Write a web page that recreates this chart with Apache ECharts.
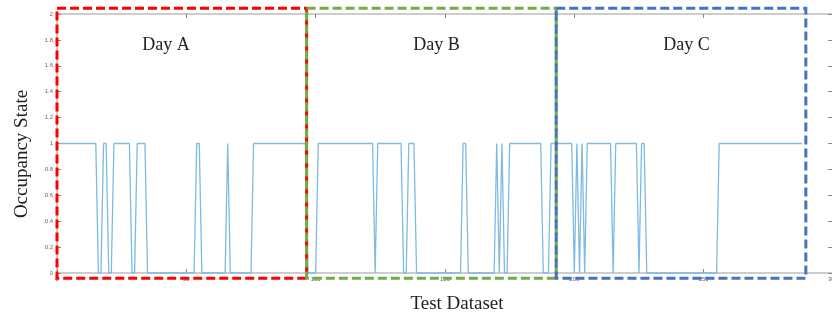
<!DOCTYPE html>
<html>
<head>
<meta charset="utf-8">
<script src="https://cdn.jsdelivr.net/npm/echarts@6/dist/echarts.min.js"></script>
<style>
html,body{margin:0;padding:0;background:#fff;}
#c{width:832px;height:321px;}
</style>
</head>
<body>
<div id="c"></div>
<script>
// Occupancy state per test sample (x = 1..288)
const occupancy = [
  1,1,1,1,1,1,1,1,1,1,
  1,1,1,1,1,0,0,1,1,0,
  0,1,1,1,1,1,1,1,0,0,
  1,1,1,1,0,0,0,0,0,0,
  0,0,0,0,0,0,0,0,0,0,
  0,0,0,1,1,0,0,0,0,0,
  0,0,0,0,0,1,0,0,0,0,
  0,0,0,0,0,1,1,1,1,1,
  1,1,1,1,1,1,1,1,1,1,
  1,1,1,1,1,1,0,0,0,0,
  1,1,1,1,1,1,1,1,1,1,
  1,1,1,1,1,1,1,1,1,1,
  1,1,0,1,1,1,1,1,1,1,
  1,1,1,0,0,1,1,1,0,0,
  0,0,0,0,0,0,0,0,0,0,
  0,0,0,0,0,0,1,1,0,0,
  0,0,0,0,0,0,0,0,0,1,
  0,1,0,0,1,1,1,1,1,1,
  1,1,1,1,1,1,1,0,0,0,
  1,1,1,1,1,1,1,1,1,0,
  1,0,1,0,1,1,1,1,1,1,
  1,1,1,1,0,1,1,1,1,1,
  1,1,1,1,0,1,1,0,0,0,
  0,0,0,0,0,0,0,0,0,0,
  0,0,0,0,0,0,0,0,0,0,
  0,0,0,0,0,1,1,1,1,1,
  1,1,1,1,1,1,1,1,1,1,
  1,1,1,1,1,1,1,1,1,1,
  1,1,1,1,1,1,1,1
];
const xTicks = [0, 50, 100, 150, 200, 250, 300];
const yTicks = [0, 0.2, 0.4, 0.6, 0.8, 1, 1.2, 1.4, 1.6, 1.8, 2];
const dayNames = ['Day A', 'Day B', 'Day C'];
const dayBounds = [0, 96.5, 193, 289.5];
const dayLabelX = [42.1, 146.7, 243.4];
const dayColors = ['#ff0000', '#70ad47', '#4472c4'];
const xTitle = 'Test Dataset';
const yTitle = 'Occupancy State';

const seriesData = occupancy.map((v, i) => [i + 1, v]);

const chart = echarts.init(document.getElementById('c'), null, {renderer: 'canvas'});
const axisGray = '#bdbdbd';
const labelStyle = {color: '#666', fontSize: 6, fontFamily: 'Liberation Sans'};

const option = {
  animation: false,
  backgroundColor: '#fff',
  grid: {left: 57, top: 14, width: 776, height: 259, containLabel: false, outerBoundsMode: 'none'},
  xAxis: [
    {
      type: 'value', min: 0, max: 300, interval: 50, position: 'bottom',
      axisLine: {show: true, onZero: false, lineStyle: {color: axisGray, width: 1.5}},
      axisTick: {show: true, inside: true, length: 4, lineStyle: {color: '#888'}},
      axisLabel: Object.assign({margin: 3, formatter: v => xTicks.includes(v) ? String(v) : ''}, labelStyle),
      splitLine: {show: false}
    },
    {
      type: 'value', min: 0, max: 300, interval: 50, position: 'top',
      axisLine: {show: true, onZero: false, lineStyle: {color: axisGray, width: 1.5}},
      axisTick: {show: true, inside: true, length: 4, lineStyle: {color: '#888'}},
      axisLabel: {show: false}, splitLine: {show: false}
    }
  ],
  yAxis: [
    {
      type: 'value', min: 0, max: 2, interval: 0.2, position: 'left',
      axisLine: {show: true, onZero: false, lineStyle: {color: axisGray, width: 1.5}},
      axisTick: {show: true, inside: true, length: 4, lineStyle: {color: '#888'}},
      axisLabel: Object.assign({margin: 4, formatter: v => {
        const t = yTicks.find(k => Math.abs(k - v) < 1e-6);
        return t === undefined ? '' : String(t);
      }}, labelStyle),
      splitLine: {show: false}
    },
    {
      type: 'value', min: 0, max: 2, interval: 0.2, position: 'right',
      axisLine: {show: true, onZero: false, lineStyle: {color: axisGray, width: 1.5}},
      axisTick: {show: true, inside: true, length: 5, lineStyle: {color: '#888'}},
      axisLabel: {show: false}, splitLine: {show: false}
    }
  ],
  series: [{
    type: 'line',
    data: seriesData,
    showSymbol: false,
    symbol: 'none',
    lineStyle: {color: '#7fbae3', width: 1.3},
    xAxisIndex: 0, yAxisIndex: 0,
    clip: false,
    z: 3
  }]
};
chart.setOption(option);

// Dashed day boxes and day labels, positioned through the axes
const graphics = [];
const yTop = chart.convertToPixel({yAxisIndex: 0}, 2.045);
const yBot = chart.convertToPixel({yAxisIndex: 0}, -0.04);
for (let i = 0; i < dayNames.length; i++) {
  const x0 = chart.convertToPixel({xAxisIndex: 0}, dayBounds[i]);
  const x1 = chart.convertToPixel({xAxisIndex: 0}, dayBounds[i + 1]);
  graphics.push({
    type: 'rect', z: 10 + i,
    shape: {x: x0, y: yTop, width: x1 - x0, height: yBot - yTop},
    style: {fill: null, stroke: dayColors[i], lineWidth: 3, lineDash: [9, 4]}
  });
  const lx = chart.convertToPixel({xAxisIndex: 0}, dayLabelX[i]);
  const ly = chart.convertToPixel({yAxisIndex: 0}, 1.76);
  graphics.push({
    type: 'text', z: 20, x: lx, y: ly,
    style: {text: dayNames[i], fill: '#222', font: '18px "Liberation Serif"', align: 'center', verticalAlign: 'middle'}
  });
}
// Axis titles
graphics.push({
  type: 'text', z: 20, x: 457, y: 304,
  style: {text: xTitle, fill: '#222', font: '19px "Liberation Serif"', align: 'center', verticalAlign: 'middle'}
});
graphics.push({
  type: 'text', z: 20, x: 22, y: 154, rotation: Math.PI / 2,
  style: {text: yTitle, fill: '#222', font: '19px "Liberation Serif"', align: 'center', verticalAlign: 'middle'}
});
chart.setOption({graphic: graphics});
</script>
</body>
</html>
